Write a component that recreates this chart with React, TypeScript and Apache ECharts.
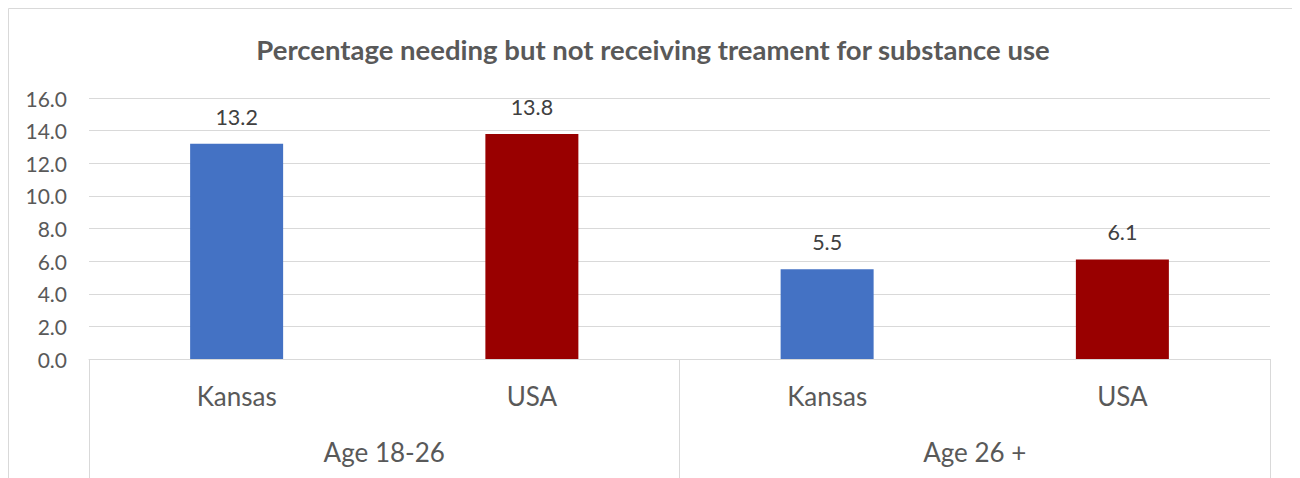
import React, { useEffect, useRef } from "react";
import * as echarts from "echarts";

const titleText = "Percentage needing but not receiving treament for substance use";
const categories = ["Kansas", "USA", "Kansas", "USA"];
const groups = ["Age 18-26", "Age 26 +"];
const values = [13.2, 13.8, 5.5, 6.1];
const yMin = 0;
const yMax = 16;
const yStep = 2;

const regionColors: Record<string, string> = { Kansas: "#4472C4", USA: "#990000" };
const FONT = "Lato, 'Noto Sans', sans-serif";

export default function App() {
  const ref = useRef<HTMLDivElement>(null);
  useEffect(() => {
    if (!ref.current) return;
    const chart = echarts.init(ref.current, undefined, { renderer: "svg" });
    chart.setOption({
      animation: false,
      backgroundColor: "#ffffff",
      textStyle: { fontFamily: FONT },
      title: {
        text: titleText,
        left: "center",
        top: 22,
        textStyle: { fontFamily: FONT, fontSize: 27.5, fontWeight: "bold", color: "#595959" },
      },
      graphic: [
        {
          type: "rect",
          shape: { x: 0.5, y: 0.5, width: 1289, height: 480 },
          style: { fill: "none", stroke: "#d9d9d9", lineWidth: 1 },
          silent: true,
          z: -1,
        },
      ],
      grid: { left: 81, right: 28, top: 90, bottom: 119, containLabel: false },
      xAxis: [
        {
          type: "category",
          data: categories,
          position: "bottom",
          axisLine: { show: true, lineStyle: { color: "#d9d9d9", width: 1 } },
          axisTick: { show: false },
          axisLabel: { margin: 24, fontSize: 26, color: "#595959", fontFamily: FONT, interval: 0 },
        },
        {
          type: "category",
          data: groups,
          position: "bottom",
          axisLine: { show: false },
          axisTick: { show: true, length: 125, interval: 0, alignWithLabel: false, lineStyle: { color: "#d9d9d9", width: 1 } },
          axisLabel: { margin: 80, fontSize: 26, color: "#595959", fontFamily: FONT, interval: 0 },
          splitLine: { show: false },
        },
      ],
      yAxis: {
        type: "value",
        min: yMin,
        max: yMax,
        interval: yStep,
        axisLine: { show: false },
        axisTick: { show: false },
        splitLine: { lineStyle: { color: "#d9d9d9", width: 1 } },
        axisLabel: {
          margin: 22,
          fontSize: 21,
          color: "#595959",
          fontFamily: FONT,
          formatter: (v: number) => v.toFixed(1),
        },
      },
      series: [
        {
          type: "bar",
          xAxisIndex: 0,
          barWidth: 93,
          data: values.map((v, i) => ({ value: v, itemStyle: { color: regionColors[categories[i]] } })),
          label: {
            show: true,
            position: "top",
            distance: 16,
            fontSize: 21.5,
            color: "#404040",
            fontFamily: FONT,
            formatter: (p: any) => Number(p.value).toFixed(1),
          },
        },
      ],
    });
    return () => chart.dispose();
  }, []);
  return <div ref={ref} style={{ width: 1290, height: 470 }} />;
}
